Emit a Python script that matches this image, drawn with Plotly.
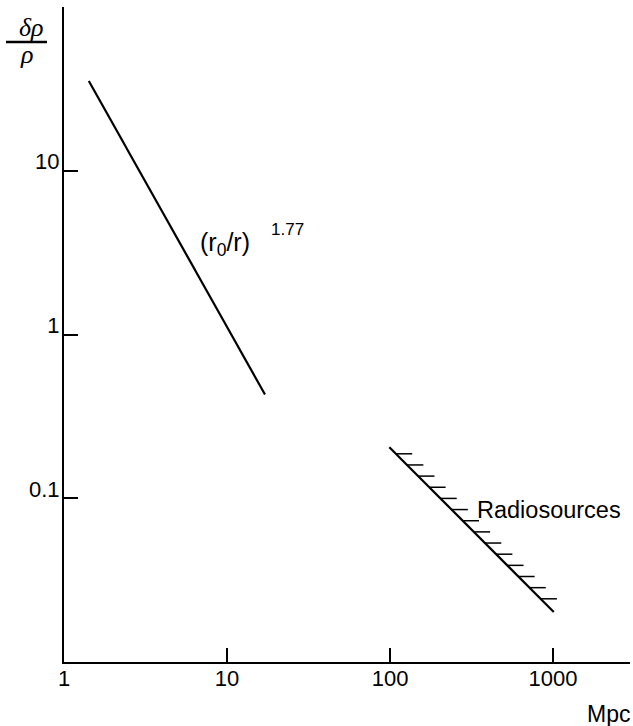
import numpy as np
import plotly.graph_objects as go

# ---- data ----
corr_r = [1.42, 17.1]          # Mpc, correlation-function segment
corr_delta = [35.3, 0.43]      # delta rho / rho
radio_r = [99.0, 1010.0]       # Mpc, radiosource limit segment
radio_delta = [0.205, 0.0202]
x_tickvals = [1, 10, 100, 1000]
x_ticktext = ["1", "10", "100", "1000"]
y_tickvals = [0.1, 1, 10]
y_ticktext = ["0.1", "1", "10"]

# ---- layout geometry ----
W, H = 633, 726
L, R, T, B = 64, 3, 7, 64
PW, PH = W - L - R, H - T - B


def px(x):
    return (x - L) / PW


def py(y):
    return (H - B - y) / PH


fig = go.Figure()
fig.add_trace(go.Scatter(x=corr_r, y=corr_delta, mode="lines",
                         line=dict(color="black", width=2.2), hoverinfo="skip"))
fig.add_trace(go.Scatter(x=radio_r, y=radio_delta, mode="lines",
                         line=dict(color="black", width=2.2), hoverinfo="skip"))

# hatches along the radiosource line (decorative, derived from the segment)
lx0, lx1 = np.log10(radio_r)
ly0, ly1 = np.log10(radio_delta)
hx, hy = [], []
hatch_len = 0.1  # decades in x
for f in np.linspace(0.04, 0.92, 14):
    xl = lx0 + f * (lx1 - lx0)
    yl = ly0 + f * (ly1 - ly0)
    hx += [10 ** xl, 10 ** (xl + hatch_len), None]
    hy += [10 ** yl, 10 ** yl, None]
fig.add_trace(go.Scatter(x=hx, y=hy, mode="lines",
                         line=dict(color="black", width=1.5), hoverinfo="skip"))

tickfont = dict(family="Liberation Sans, Arial, sans-serif", size=22, color="black")
fig.update_xaxes(type="log", range=[0, 3.472], showline=True, linewidth=2.2,
                 linecolor="black", ticks="inside", ticklen=14, tickwidth=2,
                 tickcolor="black", tickvals=x_tickvals, ticktext=x_ticktext,
                 showgrid=False, zeroline=False, tickfont=tickfont,
                 ticklabelstandoff=-5)
fig.update_yaxes(type="log", range=[-2, 2], showline=True, linewidth=2.2,
                 linecolor="black", ticks="inside", ticklen=14, tickwidth=2,
                 tickcolor="black", tickvals=y_tickvals, ticktext=y_ticktext,
                 showgrid=False, zeroline=False, tickfont=tickfont,
                 ticklabelstandoff=-2, ticklabelshift=-9)

serif = dict(family="Liberation Serif, Times New Roman, serif", size=26, color="black")
sans = dict(family="Liberation Sans, Arial, sans-serif", size=23.5, color="black")
ann = [
    dict(text="<i>δρ</i>", x=px(31), y=py(27), font=serif),
    dict(text="<i>ρ</i>", x=px(26), y=py(55), font=serif),
    dict(text="(r<sub>0</sub>/r)", x=px(225), y=py(244), font=dict(sans, size=25)),
    dict(text="1.77", x=px(287), y=py(229), font=dict(sans, size=17)),
    dict(text="Radiosources", x=px(549), y=py(510), font=sans),
    dict(text="Mpc", x=px(608), y=py(714), font=dict(sans, size=23)),
]
fig.update_layout(
    annotations=[dict(a, xref="paper", yref="paper", showarrow=False,
                      xanchor="center", yanchor="middle") for a in ann],
    shapes=[dict(type="line", xref="paper", yref="paper", x0=px(6), x1=px(47),
                 y0=py(42), y1=py(42), line=dict(color="black", width=2.5))],
    width=W, height=H, margin=dict(l=L, r=R, t=T, b=B),
    paper_bgcolor="white", plot_bgcolor="white", showlegend=False,
)
fig.write_html("out.html")
